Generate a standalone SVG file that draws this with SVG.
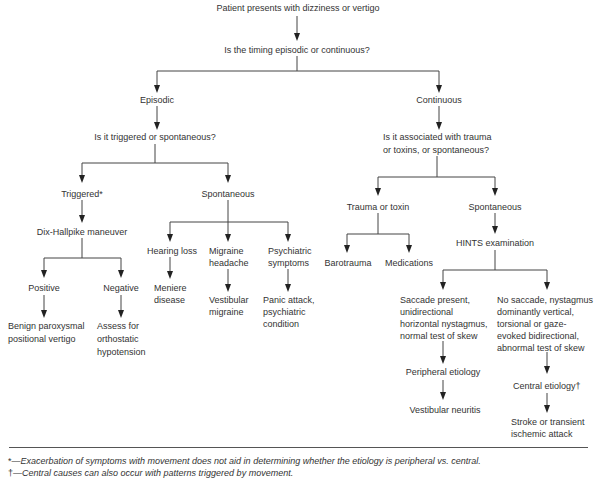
<svg xmlns="http://www.w3.org/2000/svg" width="600" height="481" viewBox="0 0 600 481">
<defs>
<style>
text{font-family:"Liberation Sans",Arial,sans-serif;font-size:9px;fill:#333}
.c{text-anchor:middle}
.ln{fill:none;stroke:#444;stroke-width:1}
.hd{fill:#222}
.fn{font-style:italic;font-size:9px}
</style>
</defs>
<rect width="600" height="481" fill="#fff"/>
<g id="connectors">
<path class="ln" d="M297,16 V33"/><path class="hd" d="M294,33 L300,33 L297,41 z"/>
<path class="ln" d="M297,56 V71 H157 V85 M297,71 H439 V85"/>
<path class="hd" d="M154,85 L160,85 L157,93 z M436,85 L442,85 L439,93 z"/>
<path class="ln" d="M157,106 V122 M439,106 V122"/>
<path class="hd" d="M154,122 L160,122 L157,130 z M436,122 L442,122 L439,130 z"/>
<path class="ln" d="M155,144 V163 H82 V175 M155,163 H228 V175"/>
<path class="hd" d="M79,175 L85,175 L82,183 z M225,175 L231,175 L228,183 z"/>
<path class="ln" d="M82,200 V215"/><path class="hd" d="M79,215 L85,215 L82,223 z"/>
<path class="ln" d="M82,238 V258 H44 V270 M82,258 H121 V270"/>
<path class="hd" d="M41,270 L47,270 L44,278 z M118,270 L124,270 L121,278 z"/>
<path class="ln" d="M44,295 V310 M121,295 V310"/>
<path class="hd" d="M41,310 L47,310 L44,318 z M118,310 L124,310 L121,318 z"/>
<path class="ln" d="M228,200 V234 M228,222 H170 V234 M228,222 H288 V234"/>
<path class="hd" d="M167,234 L173,234 L170,242 z M225,234 L231,234 L228,242 z M285,234 L291,234 L288,242 z"/>
<path class="ln" d="M170,257 V271"/><path class="hd" d="M167,271 L173,271 L170,279 z"/>
<path class="ln" d="M228,269 V284 M288,269 V284"/>
<path class="hd" d="M225,284 L231,284 L228,292 z M285,284 L291,284 L288,292 z"/>
<path class="ln" d="M437,156 V177 H378 V188 M437,177 H495 V188"/>
<path class="hd" d="M375,188 L381,188 L378,196 z M492,188 L498,188 L495,196 z"/>
<path class="ln" d="M378,213 V234 H347 V245 M378,234 H409 V245"/>
<path class="hd" d="M344,245 L350,245 L347,253 z M406,245 L412,245 L409,253 z"/>
<path class="ln" d="M495,213 V226"/><path class="hd" d="M492,226 L498,226 L495,234 z"/>
<path class="ln" d="M495,250 V270 H443 V282 M495,270 H547 V282"/>
<path class="hd" d="M440,282 L446,282 L443,290 z M544,282 L550,282 L547,290 z"/>
<path class="ln" d="M443,341 V356"/><path class="hd" d="M440,356 L446,356 L443,364 z"/>
<path class="ln" d="M443,380 V392"/><path class="hd" d="M440,392 L446,392 L443,400 z"/>
<path class="ln" d="M547,352 V366"/><path class="hd" d="M544,366 L550,366 L547,374 z"/>
<path class="ln" d="M547,393 V405"/><path class="hd" d="M544,405 L550,405 L547,413 z"/>
</g>
<g id="n-start"><text class="c" x="298" y="11">Patient presents with dizziness or vertigo</text></g>
<g id="n-timing"><text class="c" x="297" y="53">Is the timing episodic or continuous?</text></g>
<g id="n-episodic"><text class="c" x="157" y="103">Episodic</text></g>
<g id="n-continuous"><text class="c" x="439" y="103">Continuous</text></g>
<g id="n-triggered-q"><text class="c" x="155" y="140">Is it triggered or spontaneous?</text></g>
<g id="n-trauma-q"><text x="383" y="140">Is it associated with trauma</text><text x="383" y="153">or toxins, or spontaneous?</text></g>
<g id="n-triggered"><text class="c" x="82" y="197">Triggered*</text></g>
<g id="n-spont-left"><text class="c" x="228" y="197">Spontaneous</text></g>
<g id="n-trauma"><text class="c" x="378" y="210">Trauma or toxin</text></g>
<g id="n-spont-right"><text class="c" x="495" y="210">Spontaneous</text></g>
<g id="n-dix"><text class="c" x="82" y="235">Dix-Hallpike maneuver</text></g>
<g id="n-hints"><text class="c" x="495" y="246">HINTS examination</text></g>
<g id="n-hearing"><text x="147" y="254">Hearing loss</text></g>
<g id="n-migraine"><text x="209" y="254">Migraine</text><text x="209" y="266">headache</text></g>
<g id="n-psych"><text x="268" y="254">Psychiatric</text><text x="268" y="266">symptoms</text></g>
<g id="n-baro"><text class="c" x="348" y="266">Barotrauma</text></g>
<g id="n-meds"><text class="c" x="409" y="266">Medications</text></g>
<g id="n-positive"><text class="c" x="44" y="291">Positive</text></g>
<g id="n-negative"><text class="c" x="121" y="291">Negative</text></g>
<g id="n-meniere"><text x="154" y="291">Meniere</text><text x="154" y="303">disease</text></g>
<g id="n-vmigraine"><text x="209" y="303">Vestibular</text><text x="209" y="315">migraine</text></g>
<g id="n-panic"><text x="263" y="303">Panic attack,</text><text x="263" y="315">psychiatric</text><text x="263" y="327">condition</text></g>
<g id="n-saccade"><text x="400" y="303">Saccade present,</text><text x="400" y="315">unidirectional</text><text x="400" y="327">horizontal nystagmus,</text><text x="400" y="339">normal test of skew</text></g>
<g id="n-nosaccade"><text x="497" y="303">No saccade, nystagmus</text><text x="497" y="315">dominantly vertical,</text><text x="497" y="327">torsional or gaze-</text><text x="497" y="339">evoked bidirectional,</text><text x="497" y="351">abnormal test of skew</text></g>
<g id="n-bppv"><text x="8" y="329">Benign paroxysmal</text><text x="8" y="342">positional vertigo</text></g>
<g id="n-ortho"><text x="97" y="329">Assess for</text><text x="97" y="342">orthostatic</text><text x="97" y="355">hypotension</text></g>
<g id="n-peripheral"><text class="c" x="443" y="375">Peripheral etiology</text></g>
<g id="n-central"><text x="513" y="389">Central etiology†</text></g>
<g id="n-neuritis"><text class="c" x="445" y="413">Vestibular neuritis</text></g>
<g id="n-stroke"><text x="511" y="425">Stroke or transient</text><text x="511" y="437">ischemic attack</text></g>
<line x1="9" y1="447.5" x2="588" y2="447.5" stroke="#555" stroke-width="1"/>
<g id="footnotes">
<text class="fn" x="8" y="464"><tspan font-style="normal">*—</tspan>Exacerbation of symptoms with movement does not aid in determining whether the etiology is peripheral vs. central.</text>
<text class="fn" x="8" y="475.5"><tspan font-style="normal">†—</tspan>Central causes can also occur with patterns triggered by movement.</text>
</g>
</svg>
